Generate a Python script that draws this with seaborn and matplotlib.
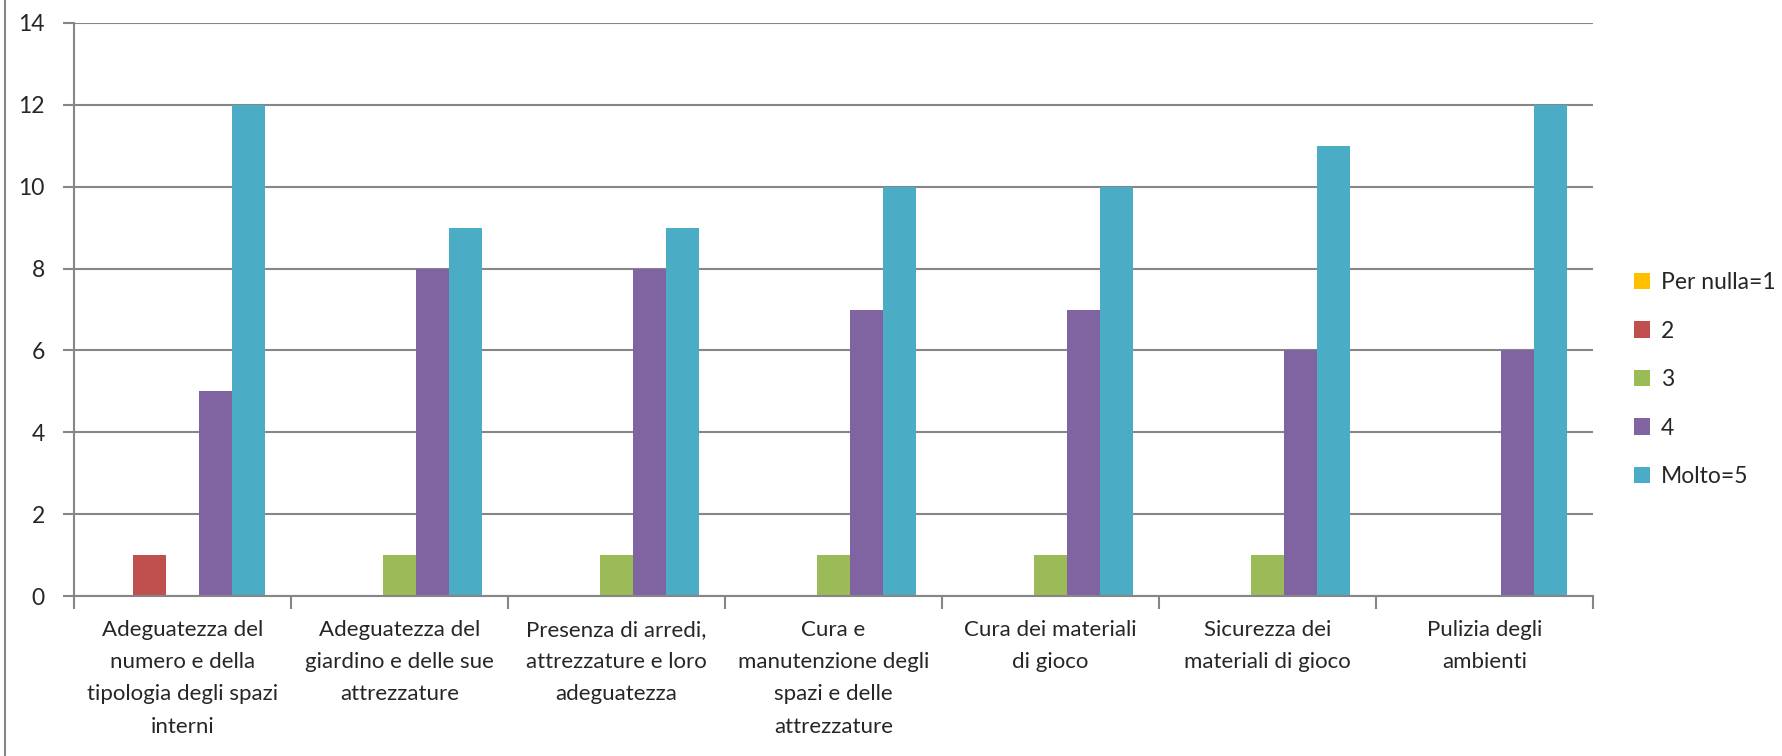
import pandas as pd
import matplotlib.pyplot as plt
import seaborn as sns
from matplotlib.lines import Line2D
from matplotlib.patches import Patch

categories = [
    "Adeguatezza del\nnumero e della\ntipologia degli spazi\ninterni",
    "Adeguatezza del\ngiardino e delle sue\nattrezzature",
    "Presenza di arredi,\nattrezzature e loro\nadeguatezza",
    "Cura e\nmanutenzione degli\nspazi e delle\nattrezzature",
    "Cura dei materiali\ndi gioco",
    "Sicurezza dei\nmateriali di gioco",
    "Pulizia degli\nambienti",
]
series = ["Per nulla=1", "2", "3", "4", "Molto=5"]
per_nulla = [0, 0, 0, 0, 0, 0, 0]
due = [1, 0, 0, 0, 0, 0, 0]
tre = [0, 1, 1, 1, 1, 1, 0]
quattro = [5, 8, 8, 7, 7, 6, 6]
molto = [12, 9, 9, 10, 10, 11, 12]
colors = ["#FFC000", "#C0504D", "#9BBB59", "#8064A2", "#4BACC6"]

rows = []
for name, vals in zip(series, [per_nulla, due, tre, quattro, molto]):
    for cat, v in zip(categories, vals):
        rows.append({"categoria": cat, "serie": name, "valore": v})
df = pd.DataFrame(rows)

sns.set_style("white")
plt.rcParams["font.family"] = ["Lato", "DejaVu Sans"]

fig = plt.figure(figsize=(17.83, 7.56), dpi=100)
ax = fig.add_axes([0.0415, 0.2116, 0.8519, 0.758])

sns.barplot(data=df, x="categoria", y="valore", hue="serie", palette=colors,
            saturation=1, width=0.76, gap=0, ax=ax, legend=False, linewidth=0)

ax.set_ylim(0, 14)
ax.set_yticks(range(0, 15, 2))
ax.set_xlim(-0.5, len(categories) - 0.5)
ax.yaxis.grid(True, color="#868686", linewidth=1.5)
ax.set_axisbelow(True)
ax.set_xlabel("")
ax.set_ylabel("")
for s in ["top", "right"]:
    ax.spines[s].set_visible(False)
for s in ["left", "bottom"]:
    ax.spines[s].set_color("#868686")
    ax.spines[s].set_linewidth(1.5)

ax.set_xticks(range(len(categories)))
ax.set_xticklabels(categories, fontsize=16, linespacing=1.77)
ax.tick_params(axis="x", length=0, pad=17)
ax.tick_params(axis="y", labelsize=16.5, length=8, width=1.5, color="#868686", pad=13, left=True)
# tacche di separazione tra le categorie
ax.set_xticks([i + 0.5 for i in range(-1, len(categories))], minor=True)
ax.tick_params(axis="x", which="minor", length=9, width=1.5, color="#868686", bottom=True)

handles = [Patch(facecolor=c, edgecolor="none", label=s) for c, s in zip(colors, series)]
fig.legend(handles=handles, loc="center left", bbox_to_anchor=(0.905, 0.498),
           frameon=False, fontsize=16.5, handlelength=0.7, handleheight=0.7,
           handletextpad=0.45, labelspacing=1.2)

fig.add_artist(Line2D([0.003, 0.003], [0, 1], color="#868686", linewidth=1.5,
                      transform=fig.transFigure))

fig.savefig("out.png", dpi=100)
